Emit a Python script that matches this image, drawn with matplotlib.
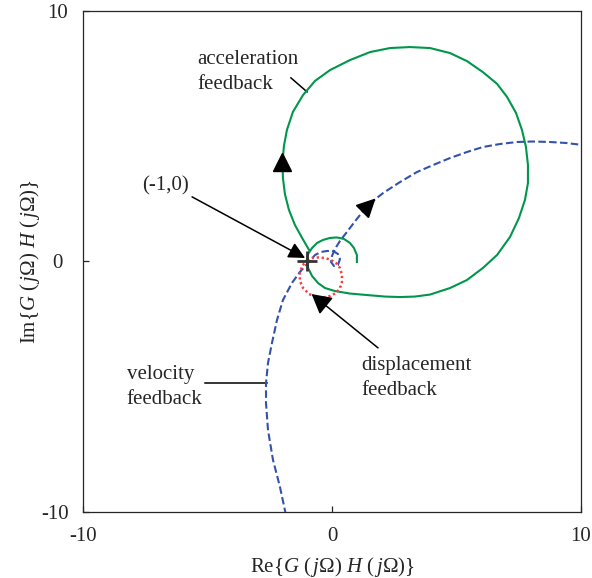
import matplotlib

matplotlib.use('Agg')

import matplotlib.pyplot as plt
from matplotlib.markers import MarkerStyle
from matplotlib.transforms import Affine2D
import numpy as np

# Nyquist loci (Re, Im)
accel_re = [1.00, 1.00, 0.88, 0.72, 0.48, 0.20, -0.08, -0.36, -0.60, -0.80, -0.96, -1.00,
            -0.96, -0.80, -0.56, -0.28, 0.12, 0.72, 1.41, 2.13, 2.73, 3.33, 3.94, 4.74, 5.42,
            6.06, 6.63, 7.15, 7.51, 7.75, 7.87, 7.87, 7.79, 7.63, 7.39, 7.03, 6.63, 6.06, 5.42,
            4.74, 3.94, 3.13, 2.33, 1.53, 0.72, -0.08, -0.68, -1.16, -1.57, -1.81, -1.93, -1.99,
            -1.97, -1.89, -1.73, -1.49, -1.20, -0.92]
accel_im = [-0.02, 0.26, 0.54, 0.74, 0.90, 0.96, 0.94, 0.86, 0.74, 0.54, 0.30, 0.02,
            -0.26, -0.58, -0.86, -1.06, -1.18, -1.28, -1.34, -1.40, -1.42, -1.40, -1.32, -1.06,
            -0.74, -0.26, 0.26, 0.98, 1.74, 2.46, 3.13, 3.85, 4.57, 5.25, 5.93, 6.57, 7.09,
            7.56, 8.00, 8.32, 8.52, 8.56, 8.52, 8.36, 8.04, 7.64, 7.21, 6.65, 5.97, 5.25, 4.61,
            3.97, 3.33, 2.69, 2.06, 1.46, 0.94, 0.46]

veloc_re = [-1.85, -2.09, -2.37, -2.57, -2.65, -2.65, -2.57, -2.41, -2.21, -1.97, -1.61,
            -1.29, -0.96, -0.68, -0.44, -0.20, 0.04, 0.24, 0.32, 0.24, 0.08, -0.04, 0.00, 0.12,
            0.32, 0.60, 1.00, 1.45, 2.05, 2.73, 3.41, 4.06, 4.74, 5.42, 6.06, 6.75, 7.43, 8.07,
            8.76, 9.40, 10.08]
veloc_im = [-10.12, -9.00, -7.92, -6.73, -5.65, -4.85, -4.05, -3.25, -2.34, -1.54, -0.86,
            -0.42, -0.06, 0.26, 0.38, 0.42, 0.42, 0.30, 0.10, -0.14, -0.18, -0.02, 0.22, 0.50,
            0.82, 1.18, 1.70, 2.26, 2.73, 3.17, 3.57, 3.85, 4.13, 4.37, 4.57, 4.69, 4.77, 4.79,
            4.77, 4.73, 4.65]

disp_re = [-1.00, -0.80, -0.56, -0.28, -0.04, 0.16, 0.32, 0.40, 0.40, 0.32, 0.16, -0.08,
           -0.36, -0.64, -0.92, -1.16, -1.29, -1.29, -1.20, -1.00]
disp_im = [0.06, 0.14, 0.16, 0.14, 0.06, -0.06, -0.26, -0.54, -0.82, -1.06, -1.26, -1.38,
           -1.44, -1.42, -1.30, -1.06, -0.78, -0.46, -0.18, 0.06]

critical_point = (-1.0, 0.0)
accel_arrow_idx = 51
veloc_arrow_idx = 27

tick_values = [-10, 0, 10]
x_tick_labels = ['-10', '0', '10']
y_tick_labels = ['-10', '0 ', '10']

GREEN = '#00964b'
BLUE = '#3352ad'
RED = '#ff3b3b'
INK = '#262626'

plt.rcParams['font.family'] = ['Liberation Serif', 'DejaVu Serif']
plt.rcParams['font.size'] = 15
plt.rcParams['axes.unicode_minus'] = False
plt.rcParams['mathtext.fontset'] = 'custom'
plt.rcParams['mathtext.rm'] = 'Liberation Serif'
plt.rcParams['mathtext.it'] = 'Liberation Serif:italic'

fig = plt.figure(figsize=(5.92, 5.78), dpi=100)
ax = fig.add_axes([0.1402, 0.1142, 0.8412, 0.8668])

ax.plot(accel_re, accel_im, color=GREEN, lw=1.5, solid_joinstyle='round', zorder=3)
ax.plot(veloc_re, veloc_im, color=BLUE, lw=1.5, dashes=(3.6, 1.6), zorder=3)
ax.plot(disp_re, disp_im, color=RED, lw=1.8, ls=(0, (0.9, 1.1)), zorder=3)

ax.plot(*critical_point, marker='+', ms=15, mew=2.0, color='#333333', zorder=5)

# direction arrows on the loci
ax.plot(accel_re[accel_arrow_idx], accel_im[accel_arrow_idx], marker='^', ms=12.5,
        color='black', zorder=6)
tri = MarkerStyle('^', transform=Affine2D().rotate_deg(-45))
ax.plot(veloc_re[veloc_arrow_idx], veloc_im[veloc_arrow_idx], marker=tri, ms=12.5,
        color='black', zorder=6)

# annotations
ax.text(-5.40, 7.56, 'acceleration\nfeedback', ha='left', va='center', color=INK,
        linespacing=1.38)
ax.plot([-1.65, -1.00], [7.33, 6.77], color='black', lw=1.1)

ax.text(-8.25, -5.01, 'velocity\nfeedback', ha='left', va='center', color=INK,
        linespacing=1.38)
ax.plot([-5.10, -2.61], [-4.85, -4.85], color='black', lw=1.1)

ax.text(1.18, -4.65, 'displacement\nfeedback', ha='left', va='center', color=INK,
        linespacing=1.38)
ax.annotate('', xy=(-0.82, -1.30), xytext=(1.85, -3.45),
            arrowprops=dict(arrowstyle='-|>,head_length=0.6,head_width=0.33',
                            mutation_scale=20, lw=1.1, color='black',
                            shrinkA=0, shrinkB=0), zorder=6)

ax.text(-6.67, 3.01, '(-1,0)', ha='center', va='center', color=INK)
ax.annotate('', xy=(-1.08, 0.14), xytext=(-5.62, 2.58),
            arrowprops=dict(arrowstyle='-|>,head_length=0.5,head_width=0.25',
                            mutation_scale=20, lw=1.1, color='black',
                            shrinkA=0, shrinkB=0), zorder=6)

ax.set_xlim(-10, 10)
ax.set_ylim(-10, 10)
ax.set_xticks(tick_values)
ax.set_xticklabels(x_tick_labels)
ax.set_yticks(tick_values)
ax.set_yticklabels(y_tick_labels)
ax.tick_params(direction='in', length=4, width=0.9, colors=INK, labelsize=15)
ax.tick_params(axis='x', pad=11)
ax.tick_params(axis='y', pad=10.5)
for spine in ax.spines.values():
    spine.set_linewidth(0.9)
    spine.set_color(INK)

ax.set_xlabel(r'Re{$G$ ($\,j\Omega$) $H$ ($\,j\Omega$)}', color=INK, va='center')
ax.xaxis.set_label_coords(0.5, -0.11)
ax.set_ylabel(r'Im{$G$ ($\,j\Omega$) $H$ ($\,j\Omega$)}', color=INK, va='center')
ax.yaxis.set_label_coords(-0.106, 0.5)

fig.savefig('out.png', dpi=100)
